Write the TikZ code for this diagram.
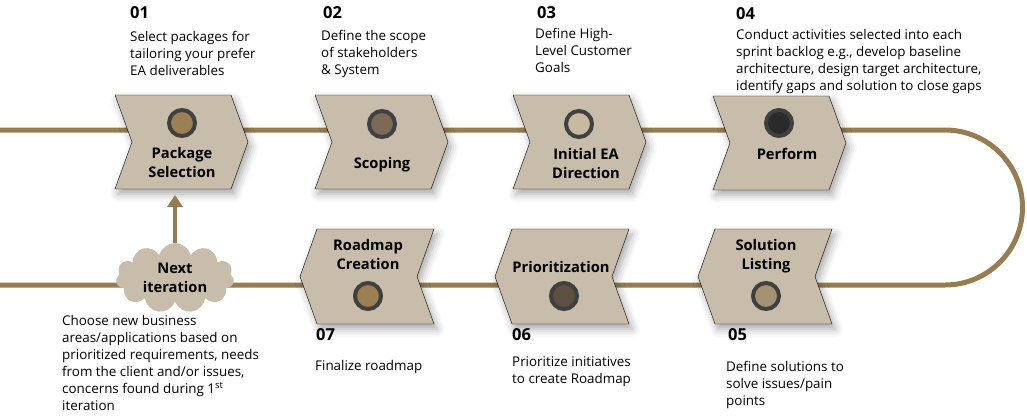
\documentclass[tikz,border=0pt]{standalone}
\usepackage{fontspec}
\setmainfont{Open Sans}
\usepackage{xcolor}
\usetikzlibrary{arrows.meta}
\usetikzlibrary{shapes.symbols}
\usetikzlibrary{shadows.blur}

\definecolor{trackbrown}{RGB}{150,124,80}
\definecolor{chevfill}{RGB}{200,189,170}
\definecolor{ringgray}{RGB}{64,64,64}
\definecolor{dotpkg}{RGB}{156,127,83}
\definecolor{dotscope}{RGB}{125,106,86}
\definecolor{dotinit}{RGB}{200,186,160}
\definecolor{dotperf}{RGB}{42,42,42}
\definecolor{dotsol}{RGB}{165,145,115}
\definecolor{dotprio}{RGB}{95,81,66}
\definecolor{dotroad}{RGB}{156,127,83}

\begin{document}
\begin{tikzpicture}[x=10pt, y=10pt,
  track/.style={draw=trackbrown, line width=5pt},
  chev/.style={fill=chevfill, blur shadow={shadow xshift=3pt, shadow yshift=-5pt, shadow blur radius=8pt, shadow opacity=35}},
  dot/.style={circle, draw=ringgray, line width=4pt, minimum size=26pt, inner sep=0pt},
  lbl/.style={font=\bfseries\fontsize{14.7}{19}\selectfont, align=center, inner sep=0pt},
  num/.style={font=\bfseries\fontsize{16.5}{19}\selectfont, anchor=west, inner sep=0pt},
  desc/.style={font=\fontsize{13.4}{17}\selectfont, align=left, anchor=north west, inner sep=0pt},
]
\useasboundingbox (0,0) rectangle (102.7,41.6);

%%% track
\draw[track] (0,28.6) -- (94.5,28.6) arc[start angle=90, end angle=-90, radius=7.75] -- (0,13.1);

%%% top row

% package selection
\draw[chev] (11.5,32.1) -- (23.1,32.1) -- (24.8,27.4) -- (23.1,22.7) -- (11.5,22.7) -- (13.2,27.4) -- cycle;
% scoping
\draw[chev] (31.5,32.1) -- (43.1,32.1) -- (44.8,27.4) -- (43.1,22.7) -- (31.5,22.7) -- (33.2,27.4) -- cycle;
% initial direction
\draw[chev] (51.3,32.1) -- (62.9,32.1) -- (64.6,27.4) -- (62.9,22.7) -- (51.3,22.7) -- (53.0,27.4) -- cycle;
% perform
\draw[chev] (71.3,32.0) -- (82.9,32.0) -- (84.6,27.3) -- (82.9,22.6) -- (71.3,22.6) -- (73.0,27.3) -- cycle;

%%% bottom row

% roadmap creation
\draw[chev] (31.7,18.7) -- (43.4,18.7) -- (41.7,13.95) -- (43.4,9.2) -- (31.7,9.2) -- (30.0,13.95) -- cycle;
% prioritization
\draw[chev] (51.2,18.7) -- (62.9,18.7) -- (61.2,13.95) -- (62.9,9.2) -- (51.2,9.2) -- (49.5,13.95) -- cycle;
% solution listing
\draw[chev] (71.5,18.7) -- (83.2,18.7) -- (81.5,13.95) -- (83.2,9.2) -- (71.5,9.2) -- (69.8,13.95) -- cycle;

%%% dots
\node[dot, fill=dotpkg] (dpkg) at (18.2,29.3) {};
\node[dot, fill=dotscope] (dscope) at (38.2,29.2) {};
\node[dot, fill=dotinit] (dinit) at (57.9,29.2) {};
\node[dot, fill=dotperf] (dperf) at (77.9,29.3) {};
\node[dot, fill=dotroad] (droad) at (36.8,12.0) {};
\node[dot, fill=dotprio] (dprio) at (56.4,12.0) {};
\node[dot, fill=dotsol] (dsol) at (76.6,12.0) {};

%%% labels
\node[lbl] (pkg) at (18.2,25.4) {Package\\Selection};
\node[lbl] (scope) at (38.2,25.1) {Scoping};
\node[lbl] (init) at (58.6,25.3) {Initial EA\\Direction};
\node[lbl] (perf) at (78.7,26.2) {Perform};
\node[lbl] (road) at (36.8,16.15) {Roadmap\\Creation};
\node[lbl] (prio) at (56.1,14.9) {Prioritization};
\node[lbl] (sol) at (76.6,16.0) {Solution\\Listing};

% next iteration
\node[cloud, cloud puffs=11, cloud ignores aspect, fill=chevfill, minimum width=118pt, minimum height=70pt, lbl] (next) at (17.5,13.8) {Next\\iteration};
\coordinate (pkgbot) at (17.5,22.1);
\draw[track, line width=4pt, -{Triangle[length=12pt, width=15pt]}] (next.north) -- (pkgbot);

%%% numbers
\node[num] (n1) at (13.0,40.3) {01};
\node[num] (n2) at (32.3,40.3) {02};
\node[num] (n3) at (53.7,40.3) {03};
\node[num] (n4) at (73.6,40.2) {04};
\node[num] (n5) at (72.8,8.1) {05};
\node[num] (n6) at (51.2,8.1) {06};
\node[num] (n7) at (31.6,8.1) {07};

%%% texts
\node[desc] (t1) at (13.0,38.5) {Select packages for\\tailoring your prefer\\EA deliverables};
\node[desc] (t2) at (32.1,38.6) {Define the scope\\of stakeholders\\\& System};
\node[desc] (t3) at (53.5,38.8) {Define High-\\Level Customer\\Goals};
\node[desc] (t4) at (73.6,38.7) {Conduct activities selected into each\\sprint backlog e.g., develop baseline\\architecture, design target architecture,\\identify gaps and solution to close gaps};
\node[desc] (t5) at (72.6,5.5) {Define solutions to\\solve issues/pain\\points};
\node[desc] (t6) at (51.2,6.0) {Prioritize initiatives\\to create Roadmap};
\node[desc] (t7) at (31.5,5.6) {Finalize roadmap};
\node[desc] (tn) at (6.2,10.1) {Choose new business\\areas/applications based on\\prioritized requirements, needs\\from the client and/or issues,\\concerns found during 1\textsuperscript{st}\\iteration};

\end{tikzpicture}
\end{document}
